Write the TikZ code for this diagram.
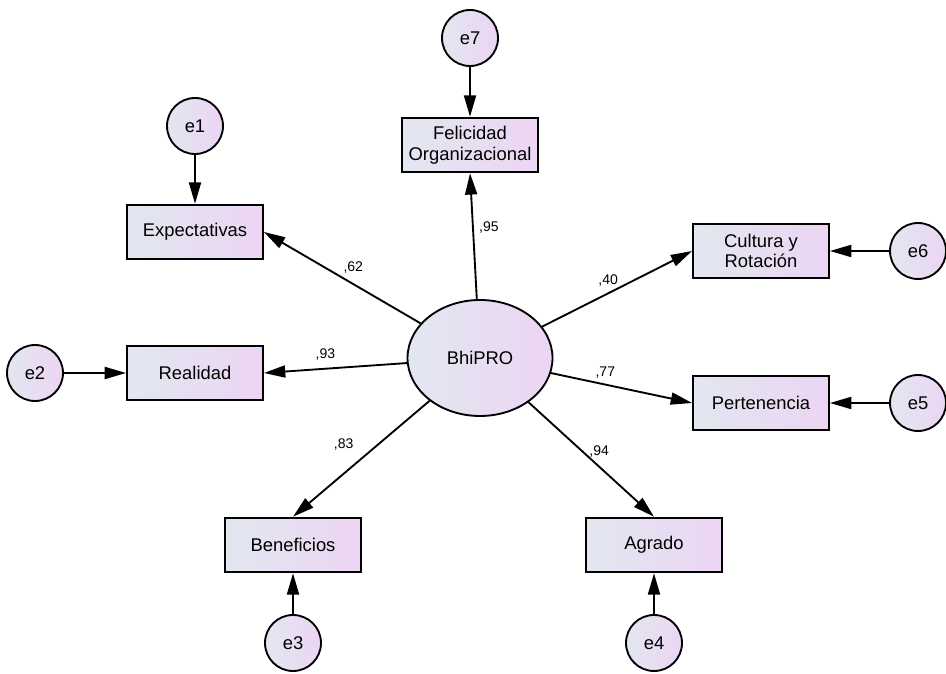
\documentclass[tikz,border=0pt]{standalone}
\usepackage{fontspec}
\setmainfont{Liberation Sans}
\usetikzlibrary{positioning, arrows.meta, shapes}

\definecolor{shadeL}{RGB}{226,231,240}
\definecolor{shadeR}{RGB}{236,213,243}

\begin{document}
\begin{tikzpicture}[x=0.75pt, y=0.75pt,
    every node/.style={font=\fontsize{13.8}{15.5}\selectfont},
    obs/.style={draw, line width=1.4pt, left color=shadeL, right color=shadeR,
        minimum width=102pt, minimum height=41pt, inner sep=0pt, align=center},
    err/.style={draw, circle, line width=1.4pt, left color=shadeL, right color=shadeR,
        minimum size=42pt, inner sep=0pt},
    latent/.style={draw, ellipse, line width=1.4pt, left color=shadeL, right color=shadeR,
        minimum width=108.75pt, minimum height=87pt, inner sep=0pt},
    coef/.style={font=\fontsize{10.5}{12}\selectfont, inner sep=1pt},
    load/.style={-{Triangle[length=16pt, width=9pt]}, line width=1.4pt}
]
    \useasboundingbox (0,0) rectangle (946,674);

    % Latent variable
    \node[latent] (bhi) at (480,316) {BhiPRO};

    % Indicators
    \node[obs] (felic) at (470,529) {Felicidad\\Organizacional};
    \node[obs] (expect) at (195,442) {Expectativas};
    \node[obs] (realidad) at (195,301) {Realidad};
    \node[obs] (benef) at (293,129) {Beneficios};
    \node[obs] (agrado) at (654,129) {Agrado};
    \node[obs] (pert) at (761,271) {Pertenencia};
    \node[obs] (cultura) at (761,423) {Cultura y\\Rotación};

    % Errors
    \node[err] (e7) at (470,636) {e7};
    \node[err] (e1) at (195,548) {e1};
    \node[err] (e2) at (35,301) {e2};
    \node[err] (e3) at (293,31) {e3};
    \node[err] (e4) at (654,31) {e4};
    \node[err] (e5) at (918,271) {e5};
    \node[err] (e6) at (918,423) {e6};

    % Loadings
    \draw[load] (bhi) -- node[coef, pos=0.57, right=3pt] {,95} (felic.south);
    \draw[load] (bhi) -- node[coef, pos=0.43, above=6.5pt] {,62} (expect.east);
    \draw[load] (bhi) -- node[coef, pos=0.57, above=5pt] {,93} (realidad.east);
    \draw[load] (bhi) -- node[coef, pos=0.375, left=17pt] {,83} (benef.north);
    \draw[load] (bhi) -- node[coef, pos=0.43, right=3.5pt] {,94} (agrado.north);
    \draw[load] (bhi) -- node[coef, pos=0.385, above=3pt] {,77} (pert.west);
    \draw[load] (bhi) -- node[coef, pos=0.44, above=3.5pt] {,40} (cultura.west);

    % Error terms
    \draw[load] (e7) -- (felic);
    \draw[load] (e1) -- (expect);
    \draw[load] (e2) -- (realidad);
    \draw[load] (e3) -- (benef);
    \draw[load] (e4) -- (agrado);
    \draw[load] (e5) -- (pert);
    \draw[load] (e6) -- (cultura);
\end{tikzpicture}
\end{document}
